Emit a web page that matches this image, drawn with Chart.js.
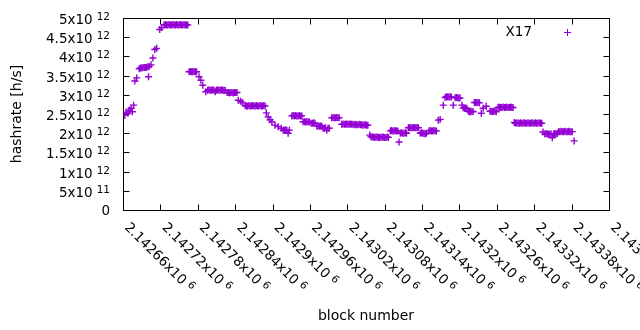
<!DOCTYPE html>
<html>
<head>
<meta charset="utf-8">
<script src="https://cdn.jsdelivr.net/npm/chart.js@4/dist/chart.umd.min.js"></script>
<style>
  body { margin: 0; background: #fff; }
  canvas { display: block; }
</style>
</head>
<body>
<canvas id="hashPlot" width="640" height="330"></canvas>
<script>
// block numbers and hashrate (in units of 1e12 h/s)
const blocks = [
  2142663, 2142665, 2142668, 2142670, 2142673, 2142675, 2142677, 2142679, 2142682,
  2142686, 2142688, 2142690, 2142692, 2142694, 2142696, 2142698, 2142700, 2142701, 2142702,
  2142705, 2142708, 2142711, 2142714, 2142719, 2142722,
  2142726, 2142728, 2142730, 2142732, 2142734, 2142736, 2142738, 2142740, 2142742, 2142744,
  2142746, 2142748, 2142750, 2142752, 2142754, 2142756, 2142758, 2142760, 2142762, 2142764,
  2142766, 2142768, 2142770, 2142772, 2142774, 2142776, 2142778,
  2142782, 2142785, 2142788, 2142793,
  2142796, 2142798, 2142800, 2142802, 2142804, 2142806, 2142808, 2142810, 2142812, 2142814,
  2142816, 2142818, 2142820, 2142822, 2142824,
  2142827, 2142829, 2142831, 2142833, 2142835, 2142837, 2142839, 2142841, 2142843,
  2142845, 2142849, 2142852,
  2142856, 2142858, 2142860, 2142862, 2142864, 2142866, 2142868, 2142870, 2142872, 2142874,
  2142876, 2142878, 2142880, 2142882, 2142884, 2142886, 2142888,
  2142890, 2142893, 2142896, 2142899, 2142904, 2142909, 2142914,
  2142917, 2142919, 2142921, 2142923, 2142925, 2142927,
  2142931, 2142933, 2142935, 2142937, 2142939, 2142941, 2142943, 2142945, 2142947,
  2142949, 2142951, 2142953, 2142955, 2142957, 2142959,
  2142962, 2142964, 2142966, 2142968,
  2142971, 2142973, 2142975, 2142977, 2142979,
  2142981, 2142983, 2142985, 2142987, 2142989, 2142991,
  2142995, 2142997, 2142999, 2143001, 2143003, 2143005, 2143007,
  2143011, 2143013, 2143015, 2143017, 2143019, 2143021, 2143023, 2143025, 2143027, 2143029,
  2143031, 2143033, 2143035, 2143037, 2143039, 2143041, 2143043, 2143045, 2143047, 2143049,
  2143051, 2143053,
  2143056,
  2143058, 2143060, 2143062, 2143064, 2143066, 2143068, 2143070, 2143072, 2143074, 2143076,
  2143078, 2143080, 2143082, 2143084, 2143086,
  2143089, 2143091, 2143093, 2143095, 2143097, 2143099, 2143101,
  2143103,
  2143105, 2143107, 2143109, 2143111, 2143113, 2143115,
  2143118, 2143120, 2143122, 2143124, 2143126, 2143128, 2143130, 2143132, 2143134,
  2143137, 2143139, 2143141, 2143143, 2143145, 2143147,
  2143151, 2143153, 2143155, 2143157, 2143159, 2143161, 2143163,
  2143166, 2143169, 2143174,
  2143177, 2143179, 2143181, 2143183, 2143185, 2143187,
  2143190,
  2143193, 2143195, 2143197, 2143199, 2143201,
  2143204,
  2143206, 2143208, 2143210, 2143212,
  2143214, 2143216, 2143218, 2143220, 2143222,
  2143224, 2143226, 2143228, 2143230, 2143232,
  2143235, 2143238, 2143243,
  2143249, 2143251, 2143253, 2143255, 2143257, 2143259,
  2143262, 2143264, 2143266, 2143268, 2143270, 2143272, 2143274, 2143276, 2143278, 2143280,
  2143282, 2143284, 2143286,
  2143288, 2143290, 2143292, 2143294, 2143296, 2143298, 2143300, 2143302, 2143304, 2143306,
  2143308, 2143310, 2143312, 2143314, 2143316, 2143318, 2143320, 2143322, 2143324, 2143326,
  2143328, 2143330, 2143332,
  2143334,
  2143337, 2143339, 2143341, 2143343, 2143345, 2143347, 2143349, 2143351, 2143353, 2143355,
  2143357,
  2143359, 2143361, 2143363, 2143365, 2143367, 2143369, 2143371, 2143373, 2143375, 2143377,
  2143379, 2143381,
  2143384
];
const hashrateT = [
  2.47, 2.55, 2.52, 2.60, 2.65, 2.56, 2.73, 3.36, 3.44,
  3.68, 3.70, 3.70, 3.71, 3.71, 3.71, 3.72, 3.73, 3.47, 3.74,
  3.78, 3.96, 4.18, 4.21, 4.70, 4.75,
  4.82, 4.83, 4.82, 4.82, 4.83, 4.82, 4.82, 4.83, 4.82, 4.82,
  4.83, 4.82, 4.82, 4.83, 4.82, 4.82, 4.83, 4.82, 4.82, 4.82,
  3.60, 3.61, 3.60, 3.60, 3.61, 3.60, 3.60,
  3.47, 3.38, 3.25, 3.08,
  3.12, 3.13, 3.12, 3.12, 3.13, 3.12, 3.08, 3.12, 3.13, 3.12,
  3.12, 3.13, 3.12, 3.11, 3.12,
  3.06, 3.06, 3.05, 3.06, 3.06, 3.05, 3.06, 3.06, 3.06,
  2.86, 2.83, 2.79,
  2.72, 2.71, 2.71, 2.72, 2.71, 2.71, 2.72, 2.71, 2.71, 2.72,
  2.71, 2.71, 2.72, 2.71, 2.71, 2.72, 2.71,
  2.53, 2.42, 2.35, 2.29, 2.21, 2.17, 2.13,
  2.08, 2.08, 2.09, 2.08, 2.00, 2.08,
  2.45, 2.46, 2.45, 2.46, 2.45, 2.45, 2.46, 2.45, 2.45,
  2.30, 2.30, 2.29, 2.30, 2.30, 2.29,
  2.26, 2.26, 2.27, 2.26,
  2.19, 2.19, 2.18, 2.19, 2.18,
  2.13, 2.13, 2.14, 2.08, 2.13, 2.13,
  2.40, 2.41, 2.40, 2.40, 2.41, 2.40, 2.40,
  2.23, 2.24, 2.23, 2.23, 2.24, 2.23, 2.23, 2.24, 2.23, 2.23,
  2.22, 2.23, 2.22, 2.22, 2.23, 2.22, 2.22, 2.21, 2.22, 2.22,
  2.21, 2.21,
  1.95,
  1.91, 1.90, 1.90, 1.89, 1.90, 1.90, 1.89, 1.89, 1.90, 1.89,
  1.90, 1.89, 1.89, 1.90, 1.89,
  2.06, 2.07, 2.06, 2.06, 2.07, 2.06, 2.06,
  1.77,
  2.00, 2.01, 2.00, 2.00, 2.01, 2.00,
  2.14, 2.15, 2.14, 2.14, 2.15, 2.14, 2.14, 2.15, 2.14,
  2.00, 2.01, 2.00, 2.00, 1.98, 2.00,
  2.06, 2.07, 2.06, 2.06, 2.07, 2.06, 2.06,
  2.34, 2.36, 2.73,
  2.93, 2.95, 2.94, 2.94, 2.95, 2.94,
  2.73,
  2.92, 2.93, 2.92, 2.91, 2.92,
  2.73,
  2.66, 2.65, 2.65, 2.65,
  2.57, 2.56, 2.56, 2.57, 2.56,
  2.80, 2.80, 2.79, 2.80, 2.79,
  2.52, 2.65, 2.70,
  2.57, 2.57, 2.56, 2.57, 2.57, 2.56,
  2.67, 2.68, 2.67, 2.67, 2.68, 2.67, 2.67, 2.68, 2.67, 2.67,
  2.68, 2.67, 2.67,
  2.28, 2.26, 2.27, 2.26, 2.26, 2.27, 2.26, 2.26, 2.27, 2.26,
  2.26, 2.27, 2.26, 2.26, 2.27, 2.26, 2.26, 2.27, 2.26, 2.26,
  2.27, 2.26, 2.26,
  2.03,
  1.98, 1.99, 1.98, 1.97, 1.98, 1.98, 1.88, 1.98, 1.99, 1.98,
  1.99,
  2.04, 2.04, 2.05, 2.04, 2.04, 2.05, 2.04, 2.04, 2.05, 2.04,
  2.04, 2.04,
  1.80
];

const xTickBlocks = [2142660, 2142720, 2142780, 2142840, 2142900, 2142960, 2143020,
                     2143080, 2143140, 2143200, 2143260, 2143320, 2143380, 2143440];
const xTickText = ['2.14266', '2.14272', '2.14278', '2.14284', '2.1429', '2.14296', '2.14302',
                   '2.14308', '2.14314', '2.1432', '2.14326', '2.14332', '2.14338', '2.14344'];
const xTickExp = '6';

const yTickValues = [0, 0.5, 1, 1.5, 2, 2.5, 3, 3.5, 4, 4.5, 5];
const yTickText = ['0', '5x10', '1x10', '1.5x10', '2x10', '2.5x10', '3x10', '3.5x10', '4x10', '4.5x10', '5x10'];
const yTickExp = ['', '11', '12', '12', '12', '12', '12', '12', '12', '12', '12'];

const seriesName = 'X17';
const purple = '#9400d3';
const fontFamily = '"DejaVu Sans", sans-serif';

const points = blocks.map((b, i) => ({ x: b, y: hashrateT[i] }));

function drawPlus(ctx, x, y, r) {
    ctx.beginPath();
    ctx.moveTo(x - r, y); ctx.lineTo(x + r, y);
    ctx.moveTo(x, y - r); ctx.lineTo(x, y + r);
    ctx.stroke();
}

const gnuplotFrame = {
    id: 'gnuplotFrame',
    beforeDatasetsDraw(chart) {
        const { ctx, chartArea: a, scales: { x, y } } = chart;
        const L = Math.round(a.left) + 0.5, R = Math.round(a.right) + 0.5;
        const T = Math.round(a.top) + 0.5, B = Math.round(a.bottom) + 0.5;
        ctx.save();
        ctx.strokeStyle = '#000';
        ctx.lineWidth = 1;
        ctx.strokeRect(L, T, R - L, B - T);
        ctx.beginPath();
        xTickBlocks.forEach(v => {
            const px = Math.round(x.getPixelForValue(v)) + 0.5;
            ctx.moveTo(px, B); ctx.lineTo(px, B - 6);
            ctx.moveTo(px, T); ctx.lineTo(px, T + 6);
        });
        yTickValues.forEach(v => {
            const py = Math.round(y.getPixelForValue(v)) + 0.5;
            ctx.moveTo(L, py); ctx.lineTo(L + 6, py);
            ctx.moveTo(R, py); ctx.lineTo(R - 6, py);
        });
        ctx.stroke();
        ctx.restore();
    },
    afterDraw(chart) {
        const { ctx, chartArea: a, scales: { x, y } } = chart;
        ctx.save();
        ctx.fillStyle = '#000';
        const mainFont = '13.5px ' + fontFamily;
        const supFont = '10.5px ' + fontFamily;

        // y tick labels, right aligned
        yTickValues.forEach((v, i) => {
            const py = y.getPixelForValue(v);
            ctx.textAlign = 'right';
            ctx.textBaseline = 'alphabetic';
            if (yTickExp[i]) {
                ctx.font = supFont;
                const sw = ctx.measureText(yTickExp[i]).width;
                ctx.fillText(yTickExp[i], 110, py + 2);
                ctx.font = mainFont;
                ctx.fillText(yTickText[i], 110 - sw - 4, py + 6);
            } else {
                ctx.font = mainFont;
                ctx.fillText(yTickText[i], 110, py + 5);
            }
        });

        // x tick labels, rotated
        xTickBlocks.forEach((v, i) => {
            const px = x.getPixelForValue(v);
            ctx.save();
            ctx.translate(px + 1, 228);
            ctx.rotate(Math.PI / 4);
            ctx.textAlign = 'left';
            ctx.textBaseline = 'alphabetic';
            ctx.font = mainFont;
            ctx.fillText(xTickText[i] + 'x10', 0, 0);
            const w = ctx.measureText(xTickText[i] + 'x10').width;
            ctx.font = supFont;
            ctx.fillText(xTickExp, w + 4, -4);
            ctx.restore();
        });

        // axis titles
        ctx.font = '14px ' + fontFamily;
        ctx.textAlign = 'center';
        ctx.textBaseline = 'middle';
        ctx.fillText('block number', (a.left + a.right) / 2, 316);
        ctx.save();
        ctx.translate(17, (a.top + a.bottom) / 2);
        ctx.rotate(-Math.PI / 2);
        ctx.fillText('hashrate [h/s]', 0, 0);
        ctx.restore();

        // key
        ctx.font = mainFont;
        ctx.textAlign = 'right';
        ctx.fillText(seriesName, 532, 32);
        ctx.strokeStyle = purple;
        ctx.lineWidth = 1;
        drawPlus(ctx, 567.5, 32.5, 3.5);
        ctx.restore();
    }
};

new Chart(document.getElementById('hashPlot').getContext('2d'), {
    type: 'scatter',
    data: {
        datasets: [{
            label: seriesName,
            data: points,
            pointStyle: 'cross',
            pointRadius: 3.5,
            pointHoverRadius: 3.5,
            borderColor: purple,
            backgroundColor: purple,
            pointBorderWidth: 1.4
        }]
    },
    options: {
        responsive: false,
        animation: false,
        devicePixelRatio: 1,
        layout: { padding: { left: 123, right: 31, top: 18, bottom: 120 } },
        plugins: { legend: { display: false }, tooltip: { enabled: false } },
        scales: {
            x: { type: 'linear', display: false, min: 2142660, max: 2143440 },
            y: { type: 'linear', display: false, min: 0, max: 5 }
        }
    },
    plugins: [gnuplotFrame]
});
</script>
</body>
</html>
